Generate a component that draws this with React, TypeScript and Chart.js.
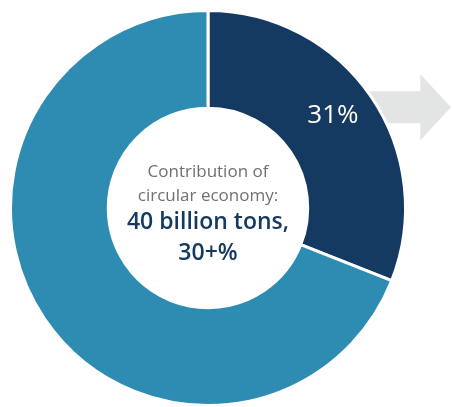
import React, { useEffect, useRef } from "react";
import { Chart, registerables } from "chart.js";

Chart.register(...registerables);

const categories = ["Circular economy contribution", "Remaining"];
const shareValues = [31, 69];
const sliceColors = ["#143a61", "#2e8cb2"];
const centerLines = ["Contribution of", "circular economy:"];
const centerBoldLines = ["40 billion tons,", "30+%"];

const FONT = "'Open Sans', Lato, sans-serif";

const arrowPlugin = {
  id: "arrowBehind",
  beforeDatasetsDraw(chart: any) {
    const meta = chart.getDatasetMeta(0);
    const arc = meta.data[0];
    if (!arc) return;
    const { x, y, outerRadius } = arc.getProps(["x", "y", "outerRadius"], true);
    const ctx = chart.ctx;
    const cy = y - outerRadius * 0.51;
    const shaftStart = x + outerRadius * 0.6;
    const headStart = x + outerRadius * 1.075;
    const tip = chart.width - 1;
    const shaftHalf = 16;
    const headHalf = 33;
    ctx.save();
    ctx.fillStyle = "#e3e4e4";
    ctx.beginPath();
    ctx.moveTo(shaftStart, cy - shaftHalf);
    ctx.lineTo(headStart, cy - shaftHalf);
    ctx.lineTo(headStart, cy - headHalf);
    ctx.lineTo(tip, cy);
    ctx.lineTo(headStart, cy + headHalf);
    ctx.lineTo(headStart, cy + shaftHalf);
    ctx.lineTo(shaftStart, cy + shaftHalf);
    ctx.closePath();
    ctx.fill();
    ctx.restore();
  },
};

const textPlugin = {
  id: "labelsText",
  afterDatasetsDraw(chart: any) {
    const meta = chart.getDatasetMeta(0);
    const ctx = chart.ctx;
    const arc0 = meta.data[0];
    if (!arc0) return;
    const { x, y } = arc0.getProps(["x", "y"], true);
    ctx.save();
    ctx.textAlign = "center";
    ctx.textBaseline = "middle";
    // slice label
    const pos = arc0.tooltipPosition(true);
    ctx.fillStyle = "#ffffff";
    ctx.font = `400 26px ${FONT}`;
    ctx.fillText(shareValues[0] + "%", pos.x + 2, pos.y - 9);
    // center text
    ctx.fillStyle = "#6f7073";
    ctx.font = `400 17px ${FONT}`;
    ctx.fillText(centerLines[0], x, y - 36);
    ctx.fillText(centerLines[1], x, y - 12);
    ctx.fillStyle = "#143a61";
    ctx.font = `600 23px ${FONT}`;
    ctx.fillText(centerBoldLines[0], x, y + 14);
    ctx.fillText(centerBoldLines[1], x, y + 45);
    ctx.restore();
  },
};

export default function App() {
  const ref = useRef<HTMLCanvasElement>(null);
  useEffect(() => {
    if (!ref.current) return;
    const chart = new Chart(ref.current, {
      type: "doughnut",
      data: {
        labels: categories,
        datasets: [
          {
            data: shareValues,
            backgroundColor: sliceColors,
            borderColor: "#ffffff",
            borderWidth: 3,
          },
        ],
      },
      options: {
        animation: false,
        responsive: false,
        maintainAspectRatio: false,
        cutout: "50.5%",
        layout: { padding: { left: 9, top: 9, right: 45, bottom: 0 } },
        plugins: {
          legend: { display: false },
          tooltip: { enabled: false },
        },
      },
      plugins: [arrowPlugin, textPlugin],
    });
    return () => chart.destroy();
  }, []);
  return (
    <div style={{ position: "fixed", left: 0, top: 0, width: 452, height: 407, background: "#fff" }}>
      <canvas ref={ref} width={452} height={407} style={{ width: 452, height: 407 }} />
    </div>
  );
}
